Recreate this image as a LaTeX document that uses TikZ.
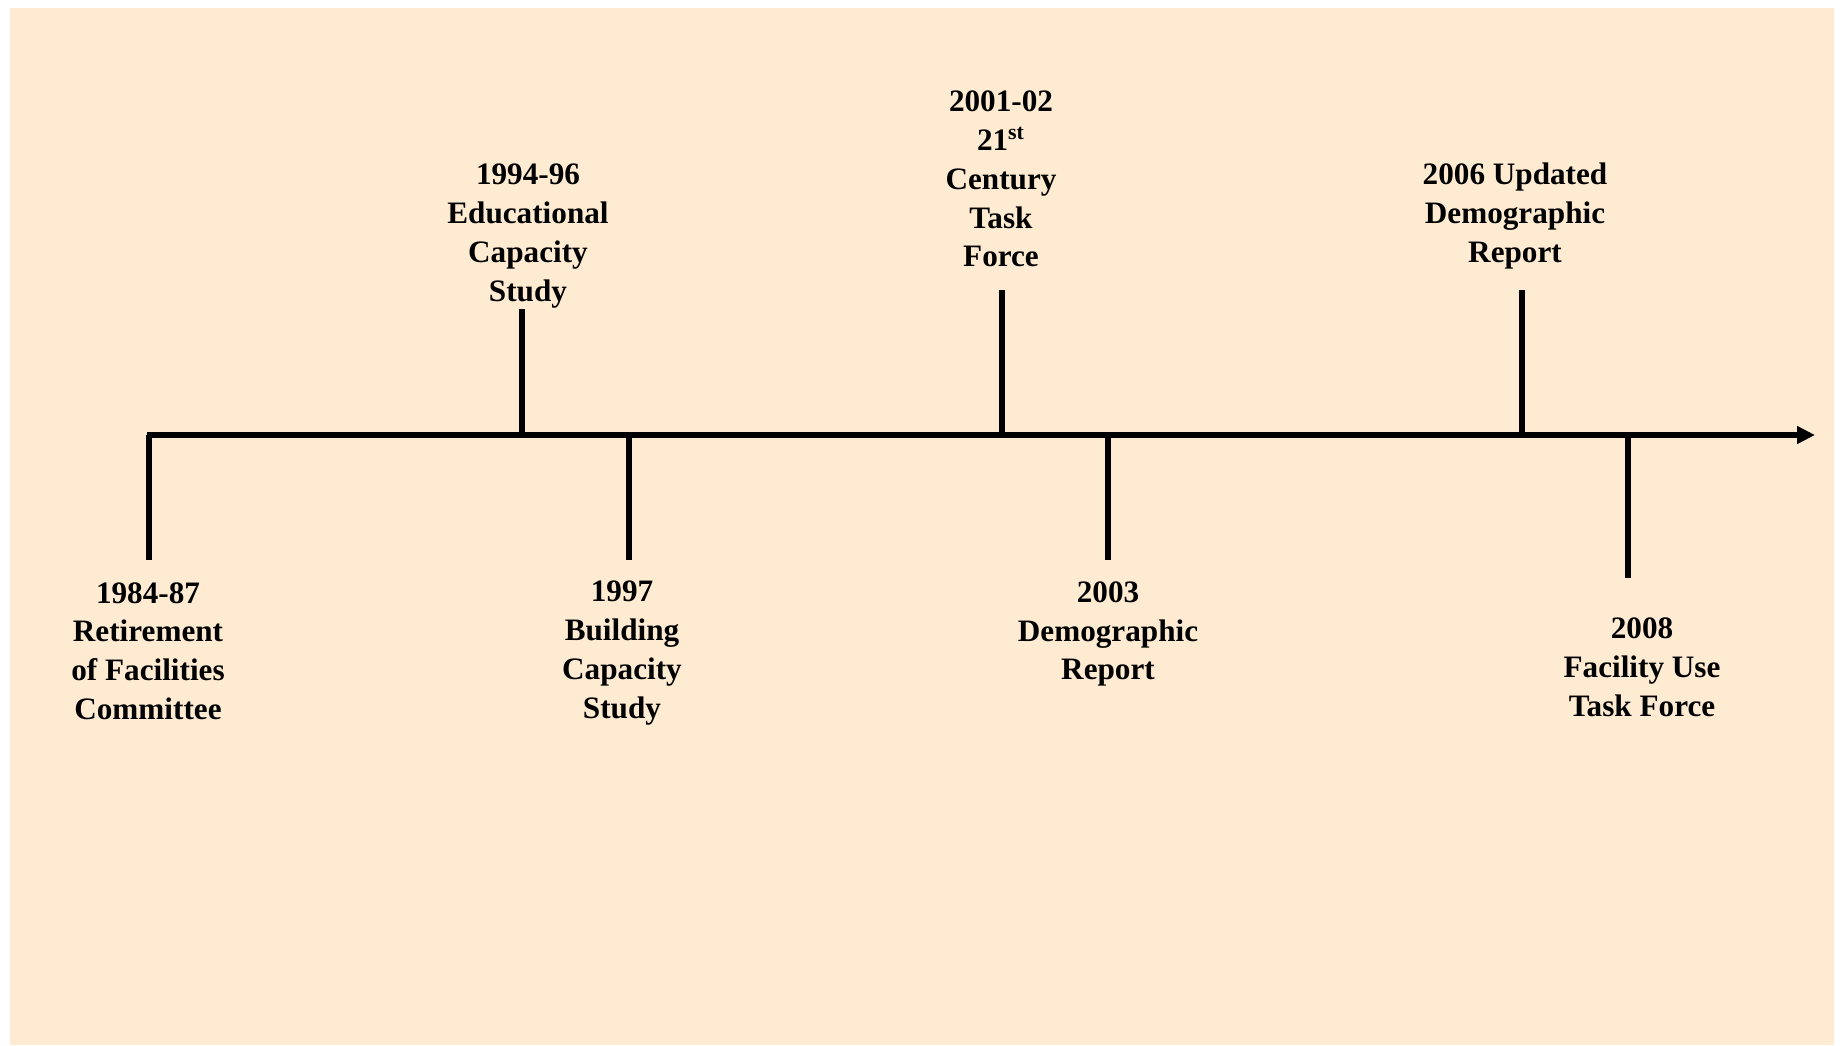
\documentclass[tikz,border=0pt]{standalone}
\usepackage{fontspec}
\setmainfont{Liberation Serif}
\usetikzlibrary{arrows.meta}
\definecolor{bgcol}{HTML}{FEEBD2}
\begin{document}
\begin{tikzpicture}[x=0.5pt,y=-0.5pt,
  lbl/.style={align=center,font=\fontsize{15.6}{19.4}\selectfont\bfseries,inner sep=0pt},
  tick/.style={line width=2.7pt},
  axisline/.style={line width=2.7pt,-{Triangle[length=9pt,width=8.5pt]}}]
\useasboundingbox (0,0) rectangle (1843,1045);
\fill[bgcol] (10,8) rectangle (1834,1045);
% axis
\coordinate (start) at (147,435);
\coordinate (end) at (1815,435);
\draw[axisline] (start) -- (end);
% tick anchors on axis
\coordinate (a1) at (149,435);
\coordinate (a2) at (522,435);
\coordinate (a3) at (629,435);
\coordinate (a4) at (1002,435);
\coordinate (a5) at (1108,435);
\coordinate (a6) at (1522,435);
\coordinate (a7) at (1628,435);
% tick ends
\coordinate (e1) at (149,560);
\coordinate (e2) at (522,309);
\coordinate (e3) at (629,560);
\coordinate (e4) at (1002,290);
\coordinate (e5) at (1108,560);
\coordinate (e6) at (1522,290);
\coordinate (e7) at (1628,578);
\foreach \i in {1,...,7} \draw[tick] (a\i) -- (e\i);
% labels
\node[lbl] (l1) at (148,651) {1984-87\\Retirement\\of Facilities\\Committee};
\node[lbl] (l2) at (528,236) {1994-96\\Educational\\Capacity\\Study};
\node[lbl] (l3) at (622,653) {1997\\Building\\Capacity\\Study};
\node[lbl] (l4) at (1001,179) {2001-02\\21\textsuperscript{st}\\Century\\Task\\Force};
\node[lbl] (l5) at (1108,634) {2003\\Demographic\\Report};
\node[lbl] (l6) at (1515,216) {2006 Updated\\Demographic\\Report};
\node[lbl] (l7) at (1642,667) {2008\\Facility Use\\Task Force};
\end{tikzpicture}
\end{document}
